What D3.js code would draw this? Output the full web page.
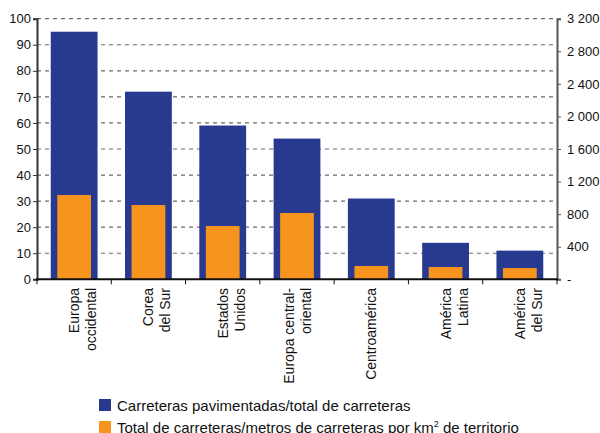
<!DOCTYPE html>
<html>
  <head>
    <meta charset="utf-8">
    <script src="https://cdn.jsdelivr.net/npm/d3@7"></script>
    <style>
      body { margin: 0; background: #fff; }
      text { font-family: "Liberation Sans", Arial, sans-serif; fill: #111; }
    </style>
  </head>
  <body>
    <svg width="600" height="433" id="chart"></svg>
    <script>
    // categories (line breaks as in the original labels)
    var categories = [
      ["Europa", "occidental"],
      ["Corea", "del Sur"],
      ["Estados", "Unidos"],
      ["Europa central-", "oriental"],
      ["Centroamérica"],
      ["América", "Latina"],
      ["América", "del Sur"]
    ];
    var paved = [95, 72, 59, 54, 31, 14, 11];           // % pavimentadas / total
    var density = [1035, 912, 654, 814, 164, 151, 138];  // metros por km2
    var leftTicks = [0, 10, 20, 30, 40, 50, 60, 70, 80, 90, 100];
    var rightTicks = [0, 400, 800, 1200, 1600, 2000, 2400, 2800, 3200];
    var legendLabels = [
      "Carreteras pavimentadas/total de carreteras",
      "Total de carreteras/metros de carreteras por km"
    ];

    var blue = "#283a8f", orange = "#f7941d";

    var svg = d3.select("#chart"),
        plotLeft = 37, plotRight = 557, plotTop = 18.7, plotBottom = 279.3;

    var x = d3.scaleBand().domain(d3.range(categories.length)).range([plotLeft, plotRight]).padding(0);
    var yL = d3.scaleLinear().domain([0, 100]).range([plotBottom, plotTop]);
    var yR = d3.scaleLinear().domain([0, 3200]).range([plotBottom, plotTop]);

    // dashed grid
    svg.append("g")
      .selectAll("line")
      .data(leftTicks.filter(function(d) { return d > 0; }))
      .enter().append("line")
      .attr("x1", plotLeft).attr("x2", plotRight)
      .attr("y1", function(d) { return yL(d); })
      .attr("y2", function(d) { return yL(d); })
      .attr("stroke", "#6b6b6b")
      .attr("stroke-width", 1.2)
      .attr("stroke-dasharray", "4,4");

    var bw = x.bandwidth();

    svg.append("g").selectAll("rect")
      .data(paved)
      .enter().append("rect")
      .attr("x", function(d, i) { return x(i) + bw / 2 - bw * 0.315; })
      .attr("width", bw * 0.63)
      .attr("y", function(d) { return yL(d); })
      .attr("height", function(d) { return plotBottom - yL(d); })
      .attr("fill", blue);

    svg.append("g").selectAll("rect")
      .data(density)
      .enter().append("rect")
      .attr("x", function(d, i) { return x(i) + bw / 2 - bw * 0.227; })
      .attr("width", bw * 0.454)
      .attr("y", function(d) { return yR(d); })
      .attr("height", function(d) { return plotBottom - yR(d); })
      .attr("fill", orange);

    // left axis
    var gl = svg.append("g")
      .attr("transform", "translate(" + plotLeft + ",0)")
      .call(d3.axisLeft(yL).tickValues(leftTicks).tickSize(4).tickPadding(2));
    gl.select(".domain").attr("stroke", "#333").attr("stroke-width", 2);
    gl.selectAll(".tick line").attr("stroke", "#333");
    gl.selectAll(".tick text").style("font-size", "13px").attr("fill", "#111")
      .style("font-family", "'Liberation Sans', Arial, sans-serif");

    // right axis
    var gr = svg.append("g")
      .attr("transform", "translate(" + plotRight + ",0)")
      .call(d3.axisRight(yR).tickValues(rightTicks).tickSize(4).tickPadding(6)
        .tickFormat(function(d) { return d === 0 ? "-" : d3.format(",")(d).replace(",", " "); }));
    gr.select(".domain").attr("stroke", "#555").attr("stroke-width", 2);
    gr.selectAll(".tick line").attr("stroke", "#555");
    gr.selectAll(".tick text").style("font-size", "13px").attr("fill", "#111")
      .style("font-family", "'Liberation Sans', Arial, sans-serif");

    // bottom axis
    var boundaries = d3.range(categories.length + 1).map(function(i) { return plotLeft + i * bw; });
    svg.append("line")
      .attr("x1", plotLeft - 1).attr("x2", plotRight + 1)
      .attr("y1", plotBottom).attr("y2", plotBottom)
      .attr("stroke", "#111").attr("stroke-width", 2);
    svg.append("g").selectAll("line")
      .data(boundaries)
      .enter().append("line")
      .attr("x1", function(d) { return d; }).attr("x2", function(d) { return d; })
      .attr("y1", plotBottom).attr("y2", plotBottom + 5)
      .attr("stroke", "#111");

    // category labels, rotated
    categories.forEach(function(lines, i) {
      var cx = x(i) + bw / 2;
      var first = lines.length > 1 && lines[0].length > 10 ? -3 : 5;
      var t = svg.append("text")
        .attr("transform", "translate(" + (cx + first) + ",288) rotate(-90)")
        .attr("text-anchor", "end")
        .style("font-size", "14px");
      lines.forEach(function(s, j) {
        t.append("tspan").attr("x", 0).attr("y", j * 17).text(s);
      });
    });

    // legend
    var lg = svg.append("g");
    [blue, orange].forEach(function(c, i) {
      lg.append("rect")
        .attr("x", 99).attr("y", 399 + i * 22)
        .attr("width", 12).attr("height", 12)
        .attr("fill", c);
      var t = lg.append("text")
        .attr("x", 117).attr("y", 411 + i * 22)
        .style("font-size", "15px")
        .text(legendLabels[i]);
      if (i === 1) {
        t.append("tspan").attr("dy", -6).style("font-size", "9px").text("2");
        t.append("tspan").attr("dy", 6).text(" de territorio");
      }
    });
    </script>
  </body>
</html>
